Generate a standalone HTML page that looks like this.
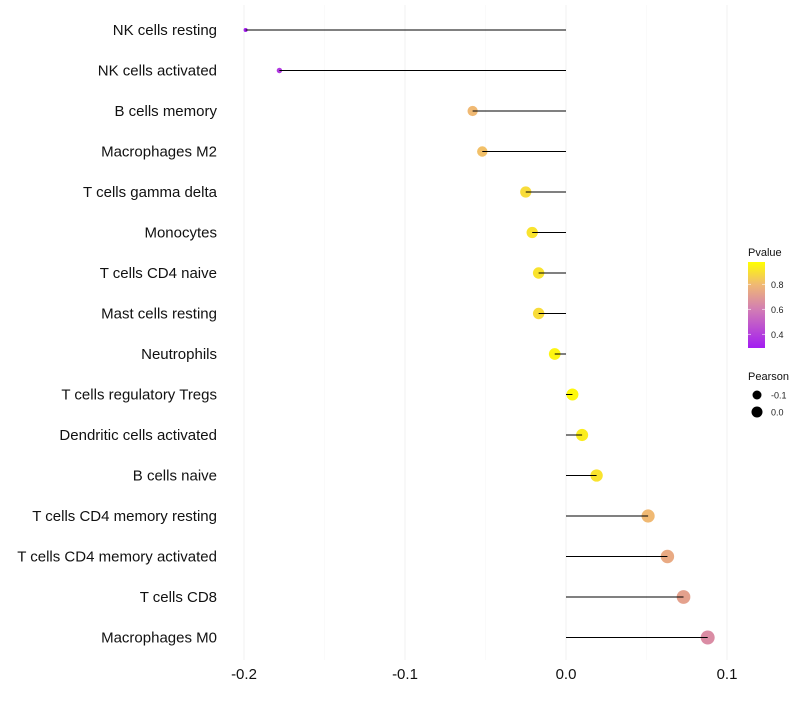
<!DOCTYPE html>
<html><head><meta charset="utf-8"><style>
body{margin:0;background:#fff;font-family:"Liberation Sans",sans-serif}
</style></head><body>
<svg id="c" width="800" height="700" xmlns="http://www.w3.org/2000/svg"></svg>
<script>
const categories=["NK cells resting","NK cells activated","B cells memory","Macrophages M2","T cells gamma delta","Monocytes","T cells CD4 naive","Mast cells resting","Neutrophils","T cells regulatory  Tregs ","Dendritic cells activated","B cells naive","T cells CD4 memory resting","T cells CD4 memory activated","T cells CD8","Macrophages M0"];
const pearson=[-0.199,-0.178,-0.058,-0.052,-0.025,-0.021,-0.017,-0.017,-0.007,0.004,0.010,0.019,0.051,0.063,0.073,0.088];
const pvalue=[0.30,0.38,0.80,0.82,0.90,0.92,0.92,0.90,0.97,0.98,0.95,0.92,0.80,0.75,0.72,0.65];
const xTicks=[-0.2,-0.1,0,0.1];
const xTickLabels=["-0.2","-0.1","0.0","0.1"];
const legendTicks=[0.4,0.6,0.8];
const svg=document.getElementById('c');const NS="http://www.w3.org/2000/svg";
function X(v){return 566+v*1610;}
function Y(i){return 30+i*40.5;}
function P(p){return 348-(p-0.29)*125;}
function R(v){return Math.sqrt(Math.max(3,35.2+156*v));}
const stops=[[0.3,[164,31,240]],[0.6,[210,125,180]],[0.8,[240,185,115]],[1.0,[255,255,0]]];
function col(p){if(p<=stops[0][0])return `rgb(${stops[0][1]})`;for(let k=1;k<stops.length;k++){if(p<=stops[k][0]){const a=stops[k-1],b=stops[k],t=(p-a[0])/(b[0]-a[0]);return 'rgb('+a[1].map((c,j)=>Math.round(c+(b[1][j]-c)*t)).join(',')+')';}}return 'rgb(255,255,0)';}
function el(t,a,txt){const e=document.createElementNS(NS,t);for(const k in a)e.setAttribute(k,a[k]);if(txt!=null)e.textContent=txt;svg.appendChild(e);return e;}
[-0.15,-0.05,0.05].forEach(v=>{const g=el('line',{x1:X(v),x2:X(v),y1:5,y2:660,stroke:'#f7f7f7','stroke-width':0.6});

});
xTicks.forEach((v,i)=>{const g=el('line',{x1:X(v),x2:X(v),y1:5,y2:660,stroke:'#f0f0f0','stroke-width':1});


const t=el('text',{x:X(v),y:679,'text-anchor':'middle','font-size':15,fill:'#111'},xTickLabels[i]);

});
categories.forEach((c,i)=>{const y=Y(i);
const t=el('text',{x:217,y:y+5,'text-anchor':'end','font-size':15,fill:'#111'},c);


const d=el('circle',{cx:X(pearson[i]),cy:y,r:R(pearson[i]),fill:col(pvalue[i])});


const l=el('line',{x1:X(0),x2:X(pearson[i]),y1:y,y2:y,stroke:'#000','stroke-width':1});

});
const defs=el('defs',{});const lg=document.createElementNS(NS,'linearGradient');lg.setAttribute('id','g');lg.setAttribute('x1',0);lg.setAttribute('y1',1);lg.setAttribute('x2',0);lg.setAttribute('y2',0);defs.appendChild(lg);
stops.forEach(s=>{const st=document.createElementNS(NS,'stop');st.setAttribute('offset',((s[0]-0.29)/0.69).toFixed(3));st.setAttribute('stop-color',`rgb(${s[1]})`);lg.appendChild(st);});
const lt=el('text',{x:748,y:256,'font-size':11,fill:'#111'},'Pvalue');


const cb=el('rect',{x:748,y:262,width:17,height:86,fill:'url(#g)'});


legendTicks.forEach(p=>{const t=el('text',{x:771,y:P(p)+3.5,'font-size':9,fill:'#222'},p.toFixed(1));


el('line',{x1:748,x2:751,y1:P(p),y2:P(p),stroke:'#fff','stroke-width':0.6});el('line',{x1:762,x2:765,y1:P(p),y2:P(p),stroke:'#fff','stroke-width':0.6});});
const st=el('text',{x:748,y:380,'font-size':11,fill:'#111'},'Pearson');


[[-0.1,395,4.5],[0.0,412,5.5]].forEach(a=>{const c=el('circle',{cx:757,cy:a[1],r:a[2],fill:'#000'});


const t=el('text',{x:771,y:a[1]+3.5,'font-size':9,fill:'#222'},a[0].toFixed(1));

});
</script>
</body></html>
